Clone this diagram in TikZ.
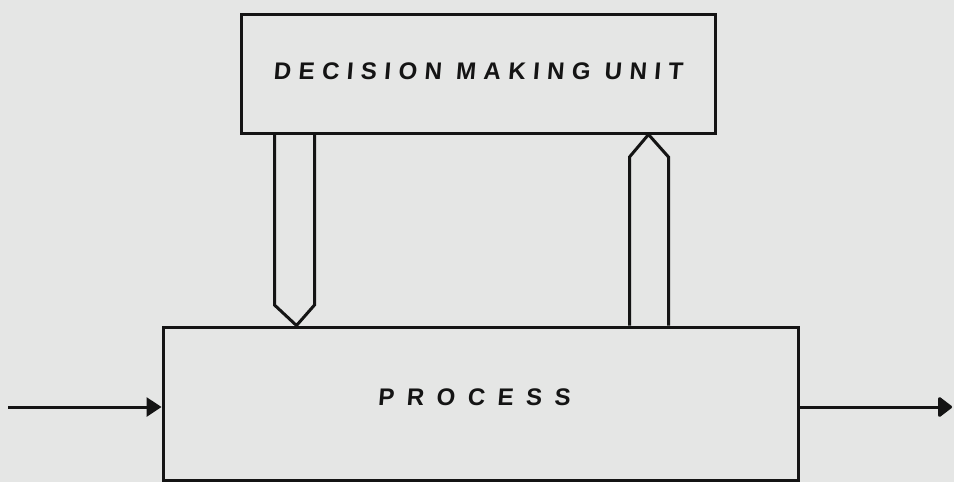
\documentclass[tikz,border=0pt]{standalone}
\usepackage{fontspec}
\setsansfont[FakeSlant=0.08]{Liberation Sans}
\usetikzlibrary{arrows.meta,calc}
\definecolor{paper}{RGB}{229,230,229}
\definecolor{ink}{RGB}{20,20,20}
\tikzset{
  blockbox/.style={draw=ink,line width=3pt,rectangle,inner sep=0pt},
  hollowarrow/.style={draw=ink,line width=3pt,line join=miter},
  flowline/.style={draw=ink,line width=3pt},
  labeltext/.style={font=\sffamily\fontsize{24}{26}\selectfont\bfseries,text=ink}
}
\begin{document}
\begin{tikzpicture}[x=1pt,y=-1pt]
\fill[paper] (0,0) rectangle (954,482);
\useasboundingbox (0,0) rectangle (954,482);
\node[blockbox,minimum width=474pt,minimum height=119pt] (dmu) at (478,73.5) {};
\node[labeltext] (dmulabel) at (478,71) {\addfontfeature{LetterSpace=31}DECISION MAKING UNIT};
\node[blockbox,minimum width=635pt,minimum height=153pt] (proc) at (480.5,403.5) {};
\node[labeltext] (proclabel) at (474,397) {\addfontfeature{LetterSpace=52}PROCESS};
% downward hollow arrow
\path (dmu.south west) ++(35,0) coordinate (d1);
\path (dmu.south west) ++(75,0) coordinate (d2);
\path (proc.north west) ++(135,0) coordinate (dtip);
\draw[hollowarrow] (d1) -- (d1 |- 0,305) -- (dtip) -- (d2 |- 0,305) -- (d2);
% upward hollow arrow
\path (proc.north west) ++(468,0) coordinate (u1);
\path (proc.north west) ++(507,0) coordinate (u2);
\path (dmu.south west) ++(409,0) coordinate (utip);
\draw[hollowarrow] (u1) -- (u1 |- 0,157) -- (utip) -- (u2 |- 0,157) -- (u2);
% input and output
\coordinate (in) at (8,407);
\coordinate (out) at (952,407);
\draw[flowline,-{Triangle[length=15pt,width=19pt]}] (in) -- (in -| proc.west);
\draw[flowline,-{Triangle[round,length=15pt,width=22pt]}] (out -| proc.east) -- (out);
\end{tikzpicture}
\end{document}
